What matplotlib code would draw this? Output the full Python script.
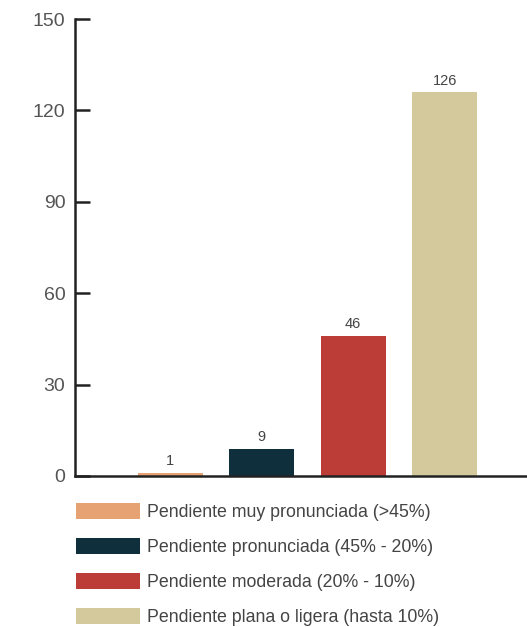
import matplotlib
matplotlib.use("Agg")
import matplotlib.pyplot as plt
from matplotlib.patches import Patch

categories = ["Pendiente muy pronunciada (>45%)",
              "Pendiente pronunciada (45% - 20%)",
              "Pendiente moderada (20% - 10%)",
              "Pendiente plana o ligera (hasta 10%)"]
values = [1, 9, 46, 126]
colors = ["#E6A272", "#0E2F3B", "#BC3D37", "#D4C89D"]
yticks = [0, 30, 60, 90, 120, 150]

plt.rcParams['font.family'] = ['Liberation Sans', 'DejaVu Sans']
fig = plt.figure(figsize=(5.27, 6.27), dpi=100)
ax = fig.add_axes([75/527, 1-476/627, 1-75/527, (476-19)/627])

x = list(range(len(values)))
bars = ax.bar(x, values, width=0.71, color=colors)
for xi, v in zip(x, values):
    ax.text(xi, v + 1.5, str(v), ha='center', va='bottom', fontsize=10.5, color='#444444')

ax.set_xlim(-1.04, 3.9)
ax.set_ylim(0, 150)
ax.set_yticks(yticks)
ax.tick_params(axis='y', direction='in', length=11, width=1.8, color='#222222',
               labelsize=14, labelcolor='#555555', pad=7)
ax.set_xticks([])
for s in ['top', 'right']:
    ax.spines[s].set_visible(False)
ax.spines['left'].set_linewidth(1.8)
ax.spines['bottom'].set_linewidth(1.8)
ax.spines['left'].set_color('#222222')
ax.spines['bottom'].set_color('#222222')

handles = [Patch(facecolor=c, edgecolor='none') for c in colors]
fig.legend(handles, categories, loc='upper left', bbox_to_anchor=(64/527, 1-491/627),
           frameon=False, fontsize=12.8, handlelength=3.55, handleheight=1.0,
           labelspacing=0.95, handletextpad=0.4, labelcolor='#444444', borderpad=0.2)

fig.savefig("out.png", dpi=100)
